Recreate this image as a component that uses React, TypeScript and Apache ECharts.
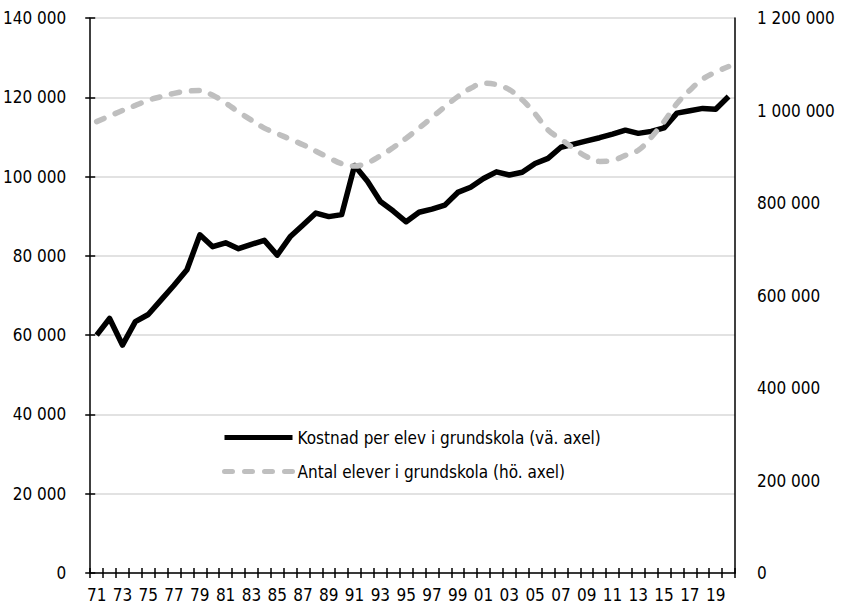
import React, { useEffect, useRef } from 'react';
import * as echarts from 'echarts';

const years = [
  '71', '72', '73', '74', '75', '76', '77', '78', '79', '80',
  '81', '82', '83', '84', '85', '86', '87', '88', '89', '90',
  '91', '92', '93', '94', '95', '96', '97', '98', '99', '00',
  '01', '02', '03', '04', '05', '06', '07', '08', '09', '10',
  '11', '12', '13', '14', '15', '16', '17', '18', '19', '20',
];

const kostnadPerElev = [
  60000, 64200, 57500, 63400, 65200, 68900, 72600, 76500, 85300, 82300,
  83300, 81800, 82900, 83900, 80200, 84800, 87800, 90800, 89900, 90400,
  102800, 98800, 93700, 91300, 88600, 91000, 91800, 92800, 96000, 97300,
  99500, 101200, 100400, 101100, 103300, 104600, 107400, 108200, 109000, 109800,
  110700, 111700, 110900, 111400, 112300, 116000, 116600, 117200, 117000, 120200,
];

const antalElever = [
  976000, 988000, 1000000, 1011000, 1022000, 1030000, 1037000, 1042000, 1043000, 1033000,
  1016000, 997000, 979000, 962000, 950000, 938000, 926000, 912000, 898000, 885000,
  880000, 887000, 902000, 920000, 940000, 962000, 985000, 1008000, 1030000, 1048000,
  1059000, 1056000, 1045000, 1023000, 993000, 958000, 938000, 918000, 900000, 890000,
  892000, 903000, 914000, 942000, 976000, 1015000, 1044000, 1068000, 1083000, 1095000,
];

const seriesNames = [
  'Kostnad per elev i grundskola (vä. axel)',
  'Antal elever i grundskola (hö. axel)',
];

const FONT = '"Liberation Sans Narrow", "Arial Narrow", "DejaVu Sans Condensed", sans-serif';

function fmt(v: number): string {
  return String(v).replace(/\B(?=(\d{3})+(?!\d))/g, ' ');
}

export default function App() {
  const ref = useRef<HTMLDivElement>(null);

  useEffect(() => {
    if (!ref.current) return;
    const chart = echarts.init(ref.current, null, { renderer: 'svg' });
    const axisColor = '#000';
    chart.setOption({
      animation: false,
      backgroundColor: '#fff',
      grid: { left: 88, right: 106, top: 18, bottom: 37, containLabel: false },
      legend: {
        orient: 'vertical',
        left: 217,
        top: 424,
        itemWidth: 68,
        itemHeight: 20,
        itemGap: 17,
        textStyle: { fontFamily: FONT, fontSize: 17, color: '#000' },
        itemStyle: { color: 'rgba(0,0,0,0)', borderWidth: 0, opacity: 0 },
        lineStyle: { width: 5 },
        data: seriesNames,
      },
      xAxis: [
        {
          type: 'category',
          data: years,
          boundaryGap: true,
          position: 'bottom',
          axisLine: { show: true, lineStyle: { color: axisColor, width: 1.5 } },
          axisTick: { show: true, interval: 0, length: 5, lineStyle: { color: axisColor, width: 1.5 } },
          axisLabel: { interval: 1, fontFamily: FONT, fontSize: 17, color: '#000', margin: 13 },
          splitLine: { show: false },
        },
        {
          type: 'category',
          data: years,
          boundaryGap: true,
          position: 'bottom',
          axisLine: { show: false },
          axisTick: { show: true, inside: true, interval: 0, length: 5, lineStyle: { color: axisColor, width: 1.5 } },
          axisLabel: { show: false },
          splitLine: { show: false },
        },
      ],
      yAxis: [
        {
          type: 'value',
          position: 'left',
          min: 0,
          max: 140000,
          interval: 20000,
          axisLine: { show: true, lineStyle: { color: axisColor, width: 1.5 } },
          axisTick: { show: true, length: 5, lineStyle: { color: axisColor, width: 1.5 } },
          axisLabel: { fontFamily: FONT, fontSize: 17, color: '#000', margin: 24, formatter: (v: number) => fmt(v) },
          splitLine: { show: true, lineStyle: { color: '#d9d9d9', width: 1.5 } },
        },
        {
          type: 'value',
          position: 'right',
          min: 0,
          max: 1200000,
          interval: 200000,
          axisLine: { show: true, lineStyle: { color: axisColor, width: 1.5 } },
          axisTick: { show: false },
          axisLabel: { fontFamily: FONT, fontSize: 17, color: '#000', margin: 22, formatter: (v: number) => fmt(v) },
          splitLine: { show: false },
        },
        {
          type: 'value',
          position: 'left',
          min: 0,
          max: 140000,
          interval: 20000,
          axisLine: { show: false },
          axisTick: { show: true, inside: true, length: 5, lineStyle: { color: axisColor, width: 1.5 } },
          axisLabel: { show: false },
          splitLine: { show: false },
        },
      ],
      series: [
        {
          name: seriesNames[0],
          type: 'line',
          xAxisIndex: 0,
          yAxisIndex: 0,
          data: kostnadPerElev,
          symbol: 'none',
          lineStyle: { color: '#000', width: 5.5, join: 'round' },
          itemStyle: { color: '#000' },
          z: 2,
        },
        {
          name: seriesNames[1],
          type: 'line',
          xAxisIndex: 0,
          yAxisIndex: 1,
          data: antalElever,
          symbol: 'none',
          smooth: 0.4,
          lineStyle: { color: '#bfbfbf', width: 5.5, type: [8, 12], cap: 'round' },
          itemStyle: { color: '#bfbfbf' },
          z: 3,
        },
      ],
    });
    return () => chart.dispose();
  }, []);

  return (
    <div
      ref={ref}
      style={{ position: 'fixed', left: 0, top: 0, width: 841, height: 610 }}
    />
  );
}
